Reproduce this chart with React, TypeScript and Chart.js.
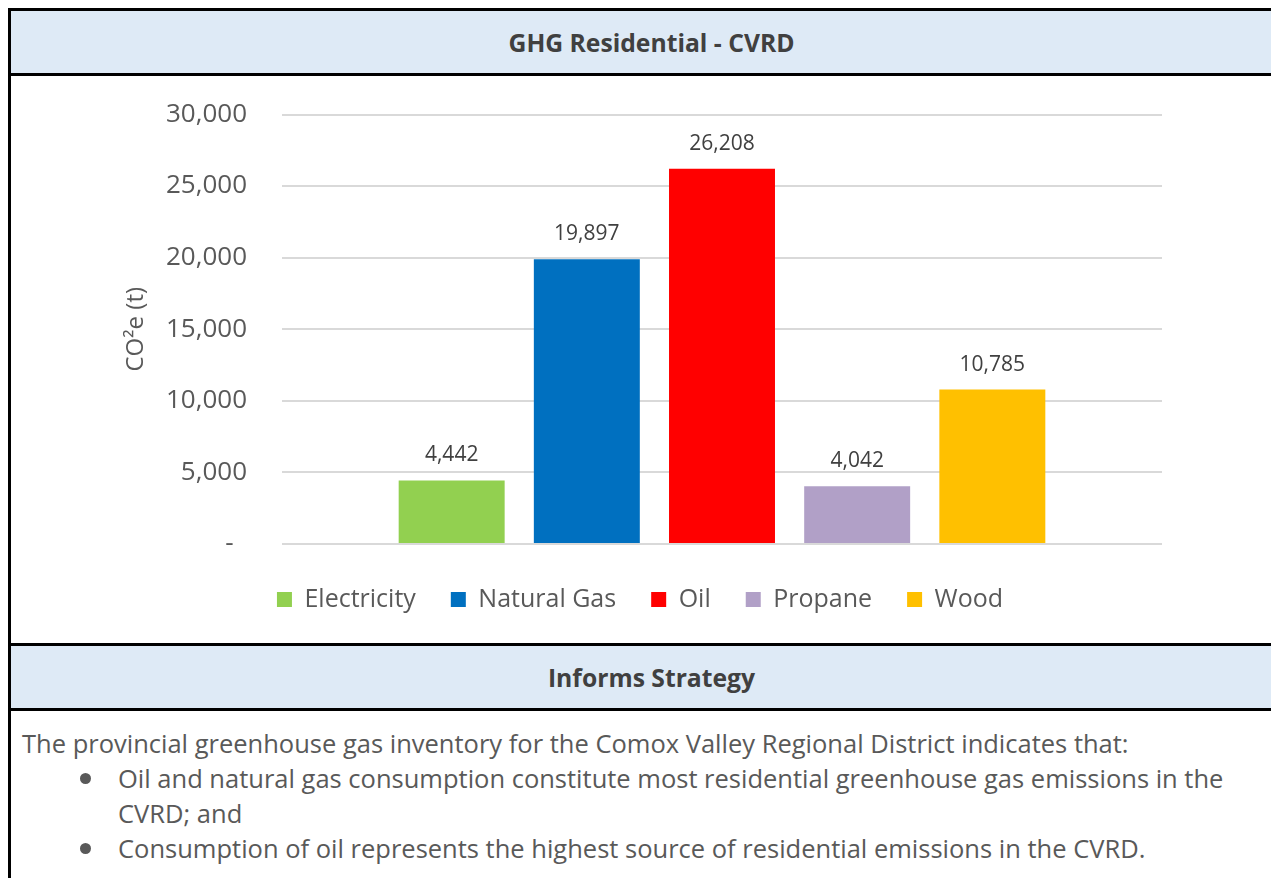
import React, { useEffect, useRef } from "react";
import { Chart, registerables } from "chart.js";

Chart.register(...registerables);

const CATEGORIES = ["Electricity", "Natural Gas", "Oil", "Propane", "Wood"];
const VALUES = [4442, 19897, 26208, 4042, 10785];
const COLORS = ["#92D050", "#0070C0", "#FF0000", "#B1A0C7", "#FFC000"];
const Y_MIN = 0;
const Y_MAX = 30000;
const Y_STEP = 5000;
const Y_TITLE = "CO²e (t)";
const CHART_TITLE = "GHG Residential - CVRD";
const SECTION_TITLE = "Informs Strategy";
const INTRO = "The provincial greenhouse gas inventory for the Comox Valley Regional District indicates that:";
const BULLETS = [
  ["Oil and natural gas consumption constitute most residential greenhouse gas emissions in the", "CVRD; and"],
  ["Consumption of oil represents the highest source of residential emissions in the CVRD."],
];

const FONT = "'Open Sans', 'DejaVu Sans', sans-serif";

const fmt = (v: number) => (v === 0 ? "-  " : v.toLocaleString("en-US"));

const valueLabels = {
  id: "valueLabels",
  afterDatasetsDraw(chart: any) {
    const ctx = chart.ctx;
    ctx.save();
    ctx.font = `21px ${FONT}`;
    ctx.fillStyle = "#404040";
    ctx.textAlign = "center";
    ctx.textBaseline = "middle";
    chart.data.datasets.forEach((ds: any, i: number) => {
      const meta = chart.getDatasetMeta(i);
      meta.data.forEach((bar: any, j: number) => {
        ctx.fillText(fmt(ds.data[j]), bar.x, bar.y - 25);
      });
    });
    ctx.restore();
  },
};

function BarChart() {
  const ref = useRef<HTMLCanvasElement | null>(null);
  useEffect(() => {
    if (!ref.current) return;
    const chart = new Chart(ref.current, {
      type: "bar",
      data: {
        labels: [""],
        datasets: CATEGORIES.map((c, i) => ({
          label: c,
          data: [VALUES[i]],
          backgroundColor: COLORS[i],
          borderWidth: 0,
          categoryPercentage: 0.768,
          barPercentage: 0.784,
        })),
      },
      options: {
        animation: false,
        responsive: false,
        maintainAspectRatio: false,
        layout: { padding: { top: 38.5, right: 10, left: 7, bottom: 21 } },
        plugins: {
          tooltip: { enabled: false },
          legend: {
            position: "bottom",
            labels: {
              boxWidth: 15,
              boxHeight: 15,
              padding: 35,
              color: "#595959",
              font: { size: 25, family: FONT },
            },
          },
        },
        scales: {
          x: {
            display: true,
            grid: { display: false },
            border: { display: false },
            ticks: { display: false },
          },
          y: {
            min: Y_MIN,
            max: Y_MAX,
            border: { display: false },
            grid: { color: "#D9D9D9", lineWidth: 2, drawTicks: false },
            ticks: {
              stepSize: Y_STEP,
              padding: 35,
              color: "#595959",
              font: { size: 26, family: FONT },
              callback: (v: any) => fmt(Number(v)),
            },
            title: {
              display: true,
              text: Y_TITLE,
              color: "#595959",
              font: { size: 24, family: FONT },
              padding: { top: 4, bottom: 4 },
            },
            afterFit: (scale: any) => {
              scale.width = 164;
              scale.paddingTop = 0;
              scale.paddingBottom = 0;
            },
          },
        },
      },
      plugins: [valueLabels],
    });
    return () => chart.destroy();
  }, []);
  return <canvas ref={ref} width={1061} height={567} style={{ position: "absolute", left: 100, top: 0, width: 1061, height: 567 }} />;
}

const border = "3px solid #000";
const headerStyle: React.CSSProperties = {
  height: 62,
  background: "#DEEAF6",
  borderBottom: border,
  display: "flex",
  alignItems: "center",
  justifyContent: "center",
  fontFamily: FONT,
  fontWeight: 700,
  fontSize: 24.7,
  color: "#404040",
};

export default function App() {
  return (
    <div style={{ width: 1271, height: 870, overflow: "hidden" }}>
      <div style={{ width: 1281, height: 900, borderTop: border, borderLeft: border, boxSizing: "content-box" }}>
        <div style={headerStyle}>{CHART_TITLE}</div>
        <div style={{ height: 567, position: "relative", borderBottom: border, background: "#fff" }}>
          <BarChart />
        </div>
        <div style={headerStyle}>{SECTION_TITLE}</div>
        <div style={{ fontFamily: FONT, fontSize: 25.5, lineHeight: "35px", color: "#595959", padding: "15px 0 0 11px" }}>
          <div style={{ whiteSpace: "nowrap" }}>{INTRO}</div>
          {BULLETS.map((lines, i) => (
            <div key={i} style={{ position: "relative", paddingLeft: 96 }}>
              <span style={{ position: "absolute", left: 58, top: 12, width: 11, height: 11, borderRadius: "50%", background: "#595959" }} />
              {lines.map((l, j) => (
                <div key={j} style={{ whiteSpace: "nowrap" }}>{l}</div>
              ))}
            </div>
          ))}
        </div>
      </div>
    </div>
  );
}
